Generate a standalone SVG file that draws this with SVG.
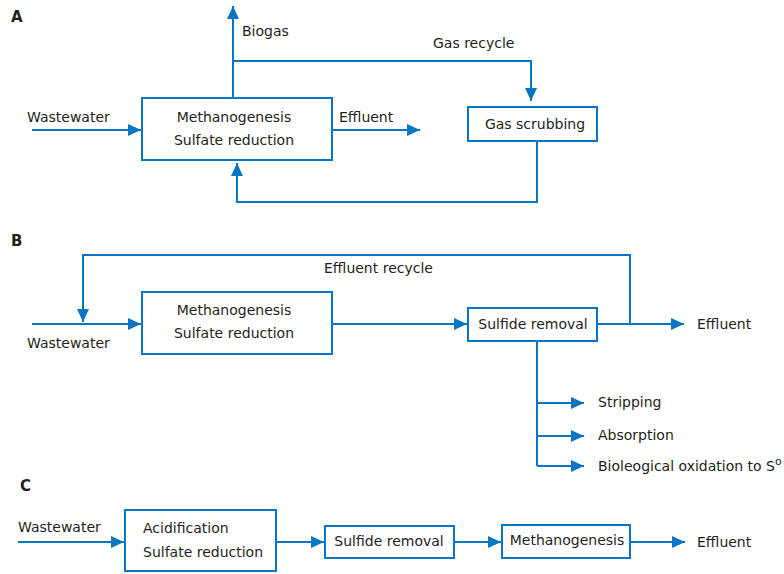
<svg xmlns="http://www.w3.org/2000/svg" width="784" height="574" viewBox="0 0 784 574">
<style>
.box{fill:#fff;stroke:#0a75c2;stroke-width:2}
.ln{fill:none;stroke:#0a75c2;stroke-width:2}
.ar{marker-end:url(#ah)}
text{font-family:"DejaVu Sans","Liberation Sans",sans-serif;font-size:14px;fill:#231f20}
.c{text-anchor:middle}
.lbl{font-weight:bold;font-size:15px}
</style>
<defs>
<marker id="ah" viewBox="0 0 13 12" refX="13" refY="6" markerWidth="13" markerHeight="12" markerUnits="userSpaceOnUse" orient="auto">
<path d="M0,0 L13,6 L0,12 Z" fill="#0a75c2"/>
</marker>
</defs>
<rect width="784" height="574" fill="#fff"/>
<text class="lbl" x="11" y="22">A</text>
<text class="lbl" x="11" y="246">B</text>
<text class="lbl" x="20" y="491">C</text>
<g id="connectors">
<path class="ln ar" d="M233,98 V6"/>
<path class="ln ar" d="M233,61 H531 V101"/>
<path class="ln ar" d="M32,130 H141"/>
<path class="ln ar" d="M332,130 H420"/>
<path class="ln ar" d="M537,141 V202 H237 V163"/>
<path class="ln ar" d="M630,324 V255 H83 V322"/>
<path class="ln ar" d="M32,324 H141"/>
<path class="ln ar" d="M332,324 H467"/>
<path class="ln ar" d="M597,324 H684"/>
<path class="ln" d="M537,341 V466"/>
<path class="ln ar" d="M537,403 H584"/>
<path class="ln ar" d="M537,436 H584"/>
<path class="ln ar" d="M537,466 H584"/>
<path class="ln ar" d="M18,542 H124"/>
<path class="ln ar" d="M276,542 H324"/>
<path class="ln ar" d="M454,542 H501"/>
<path class="ln ar" d="M630,542 H685"/>
</g>
<g id="labels">
<text x="242" y="36">Biogas</text>
<text x="433" y="48">Gas recycle</text>
<text x="27" y="122">Wastewater</text>
<text x="339" y="122">Effluent</text>
<text x="324" y="273">Effluent recycle</text>
<text x="27" y="348">Wastewater</text>
<text x="697" y="329">Effluent</text>
<text x="598" y="407">Stripping</text>
<text x="598" y="440">Absorption</text>
<text x="598" y="471">Bioleogical oxidation to S<tspan dy="-6" font-size="11">o</tspan></text>
<text x="18" y="532">Wastewater</text>
<text x="697" y="547">Effluent</text>
</g>
<g id="a-reactor">
<rect class="box" x="142" y="98" width="190" height="62"/>
<text class="c" x="234" y="122">Methanogenesis</text>
<text class="c" x="234" y="145">Sulfate reduction</text>
</g>
<g id="a-scrub">
<rect class="box" x="468" y="107" width="129" height="34"/>
<text class="c" x="535" y="129">Gas scrubbing</text>
</g>
<g id="b-reactor">
<rect class="box" x="142" y="292" width="190" height="62"/>
<text class="c" x="234" y="315">Methanogenesis</text>
<text class="c" x="234" y="338">Sulfate reduction</text>
</g>
<g id="b-sulfide">
<rect class="box" x="468" y="308" width="129" height="33"/>
<text class="c" x="533" y="329">Sulfide removal</text>
</g>
<g id="c-acid">
<rect class="box" x="125" y="510" width="151" height="61"/>
<text x="143" y="533">Acidification</text>
<text x="143" y="557">Sulfate reduction</text>
</g>
<g id="c-sulfide">
<rect class="box" x="325" y="526" width="129" height="32"/>
<text class="c" x="389" y="546">Sulfide removal</text>
</g>
<g id="c-meth">
<rect class="box" x="502" y="525" width="128" height="33"/>
<text class="c" x="567" y="545">Methanogenesis</text>
</g>
</svg>
